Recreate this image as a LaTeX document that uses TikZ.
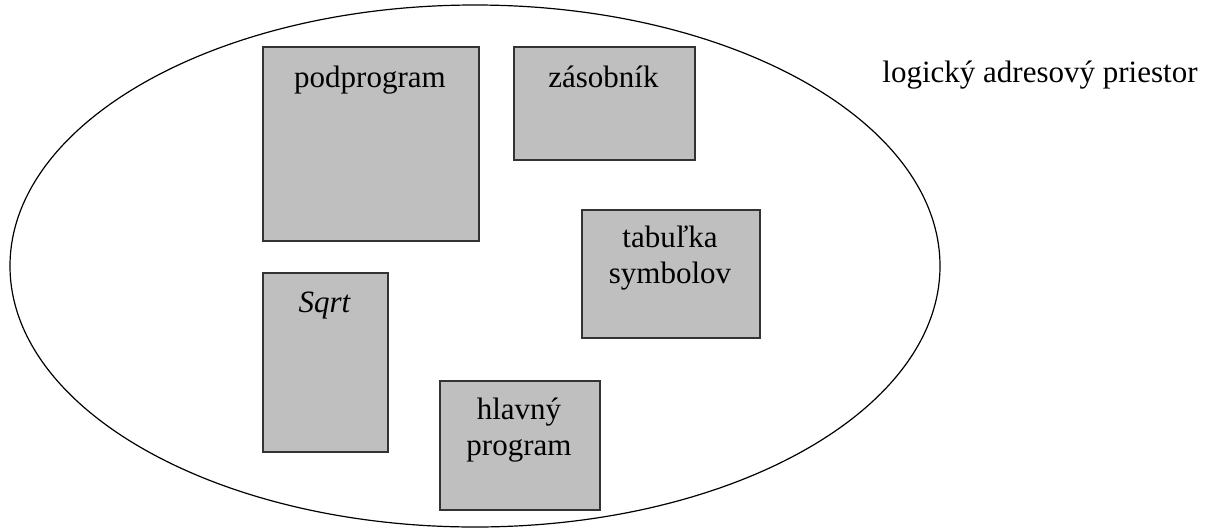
\documentclass[tikz,border=0pt]{standalone}
\usepackage{fontspec}
\setmainfont{Liberation Serif}
\usetikzlibrary{shapes.geometric}
\begin{document}
\begin{tikzpicture}[x=1pt,y=-1pt,
  seg/.style={draw=black!80,line width=1.6pt,fill=black!25,rectangle,inner sep=0pt,anchor=north west},
  lbl/.style={font=\fontsize{31}{36}\selectfont,inner sep=0pt,anchor=base,align=center},
  space/.style={draw=black,line width=1.2pt,ellipse,inner sep=0pt}]
\useasboundingbox (0,0) rectangle (1210,531);
\node[space,minimum width=930pt,minimum height=522pt] (las) at (475,266) {};
\node[seg,minimum width=216pt,minimum height=194pt] (pod) at (262,46) {};
\node[seg,minimum width=181pt,minimum height=113pt] (zas) at (513,46) {};
\node[seg,minimum width=178pt,minimum height=128pt] (tab) at (581,209) {};
\node[seg,minimum width=125pt,minimum height=179pt] (sqrt) at (262,272) {};
\node[seg,minimum width=160pt,minimum height=129pt] (hl) at (439,380) {};
\node[lbl] (tpod) at (370,87) {podprogram};
\node[lbl] (tzas) at (603.5,87) {zásobník};
\node[lbl] (ttab) at (670,283) {tabuľka\\symbolov};
\node[lbl] (tsqrt) at (324.5,312) {\itshape Sqrt};
\node[lbl] (thl) at (519,455) {hlavný\\program};
\node[lbl] (tlas) at (1040,82) {logický adresový priestor};
\end{tikzpicture}
\end{document}
